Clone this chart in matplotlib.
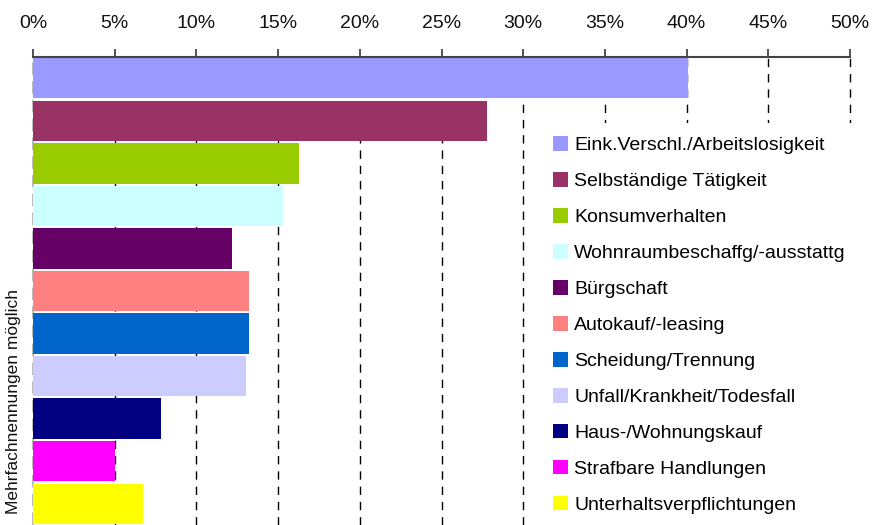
import matplotlib
matplotlib.use("Agg")
import matplotlib.pyplot as plt
from matplotlib.patches import Patch

categories = [
    "Eink.Verschl./Arbeitslosigkeit",
    "Selbständige Tätigkeit",
    "Konsumverhalten",
    "Wohnraumbeschaffg/-ausstattg",
    "Bürgschaft",
    "Autokauf/-leasing",
    "Scheidung/Trennung",
    "Unfall/Krankheit/Todesfall",
    "Haus-/Wohnungskauf",
    "Strafbare Handlungen",
    "Unterhaltsverpflichtungen",
]
values = [40.1, 27.8, 16.3, 15.3, 12.2, 13.2, 13.2, 13.05, 7.85, 5.0, 6.75]
colors = ["#9999FF", "#993366", "#99CC00", "#CCFFFF", "#660066", "#FF8080",
          "#0066CC", "#CCCCFF", "#000080", "#FF00FF", "#FFFF00"]
xticks = [0, 5, 10, 15, 20, 25, 30, 35, 40, 45, 50]
xticklabels = [f"{t}%" for t in xticks]

plt.rcParams["font.family"] = ["Liberation Sans", "DejaVu Sans"]

fig = plt.figure(figsize=(8.81, 5.25), dpi=100)
ax = fig.add_axes([33 / 881, 0, (850 - 33) / 881, (525 - 57) / 525])

for x in xticks[1:]:
    ax.axvline(x, color="black", lw=1.0, ls=(0, (6, 5)), zorder=0, clip_on=False)
ax.axvline(0, color="#BBBBBB", lw=1.5, ls=(0, (6, 3)), zorder=0, clip_on=False)

ypos = list(range(len(values)))
ax.barh(ypos, values, height=0.95, color=colors, zorder=2)

ax.set_xlim(0, 50)
ax.set_ylim(len(values) - 0.5, -0.5)
ax.xaxis.tick_top()
ax.set_xticks(xticks)
ax.set_xticklabels(xticklabels, fontsize=14, color="#111111")
ax.tick_params(axis="x", which="both", direction="out", length=6, width=1.2,
               color="#333333", pad=12)
ax.set_yticks([])
for s in ["left", "right", "bottom"]:
    ax.spines[s].set_visible(False)
ax.spines["top"].set_color("#444444")
ax.spines["top"].set_linewidth(1.5)

handles = [Patch(facecolor=c, edgecolor="none") for c in colors]
leg = fig.legend(handles, categories, loc="upper left",
                 bbox_to_anchor=(539.5 / 881, 1 - 122.5 / 525), frameon=True,
                 fancybox=False, facecolor="white", edgecolor="none", framealpha=1,
                 fontsize=14, handlelength=0.78, handleheight=0.78,
                 handletextpad=0.3, labelspacing=0.92, borderpad=0.7,
                 borderaxespad=0)
leg.set_zorder(5)

fig.text(14 / 881, 1 - 401 / 525, "Mehrfachnennungen möglich", rotation=90,
         ha="center", va="center", fontsize=12.5, color="#111111")

fig.savefig("out.png", dpi=100)
